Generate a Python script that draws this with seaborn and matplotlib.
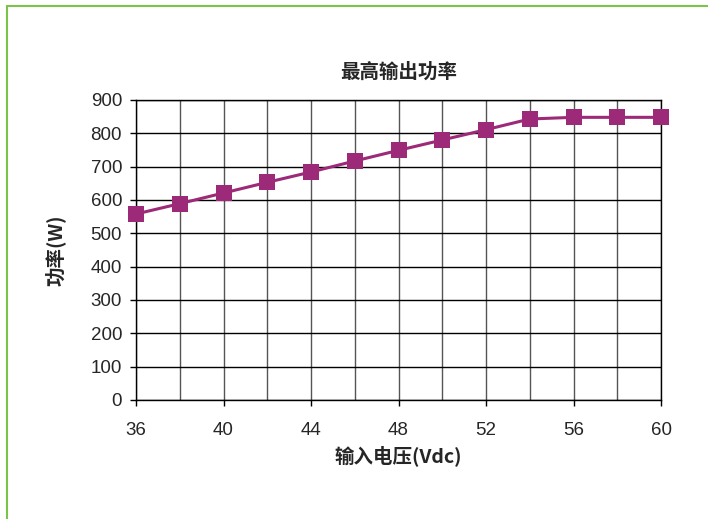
import matplotlib
matplotlib.use('Agg')
import matplotlib.pyplot as plt
import seaborn as sns
import pandas as pd
from matplotlib.patches import Rectangle

# values
voltage = [36, 38, 40, 42, 44, 46, 48, 50, 52, 54, 56, 58, 60]
power = [558, 589, 621, 653, 684, 717, 749, 780, 811, 843, 848, 848, 848]
x_ticks = [36, 40, 44, 48, 52, 56, 60]
y_ticks = [0, 100, 200, 300, 400, 500, 600, 700, 800, 900]

df = pd.DataFrame({'Vin': voltage, 'P': power})

sns.set_style("white")
plt.rcParams['font.family'] = ['Liberation Sans Narrow', 'Liberation Sans', 'Noto Sans CJK SC', 'DejaVu Sans']
cjk = ['Noto Sans CJK SC', 'DejaVu Sans']

fig = plt.figure(figsize=(7.08, 5.19), dpi=100)
ax = fig.add_axes([136/708, 1 - 400/519, 525/708, 300/519])

# grid every 2 V / 100 W
for v in voltage:
    ax.axvline(v, color='#555555', lw=1, zorder=1)
for p in y_ticks:
    ax.axhline(p, color='black', lw=1, zorder=1)

sns.lineplot(data=df, x='Vin', y='P', ax=ax, color='#9c2a78', lw=2.2,
             marker='s', markersize=11, markeredgewidth=0, zorder=3, clip_on=False)

ax.set_xlim(36, 60)
ax.set_ylim(0, 900)
ax.set_xticks(x_ticks)
ax.set_yticks(y_ticks)
ax.tick_params(axis='both', labelsize=13.5, direction='out', length=4, width=1,
               color='black', pad=6, bottom=True, left=True)
ax.tick_params(axis='x', pad=12)
for s in ax.spines.values():
    s.set_color('black')
    s.set_linewidth(1)

ax.set_xlabel('输入电压(Vdc)', fontsize=14, fontweight='bold', family=cjk, labelpad=4)
ax.set_ylabel('功率(W)', fontsize=14, fontweight='bold', family=cjk, labelpad=18)
ax.set_title('最高输出功率', fontsize=14, fontweight='bold', family=cjk, pad=16)

# green frame (only left and top visible)
fig.patches.append(Rectangle((7/708, -0.1), 1.2, 1 - 6/519 + 0.1, transform=fig.transFigure,
                             fill=False, edgecolor='#7dc24b', lw=1.5))

fig.savefig('out.png', dpi=100)
